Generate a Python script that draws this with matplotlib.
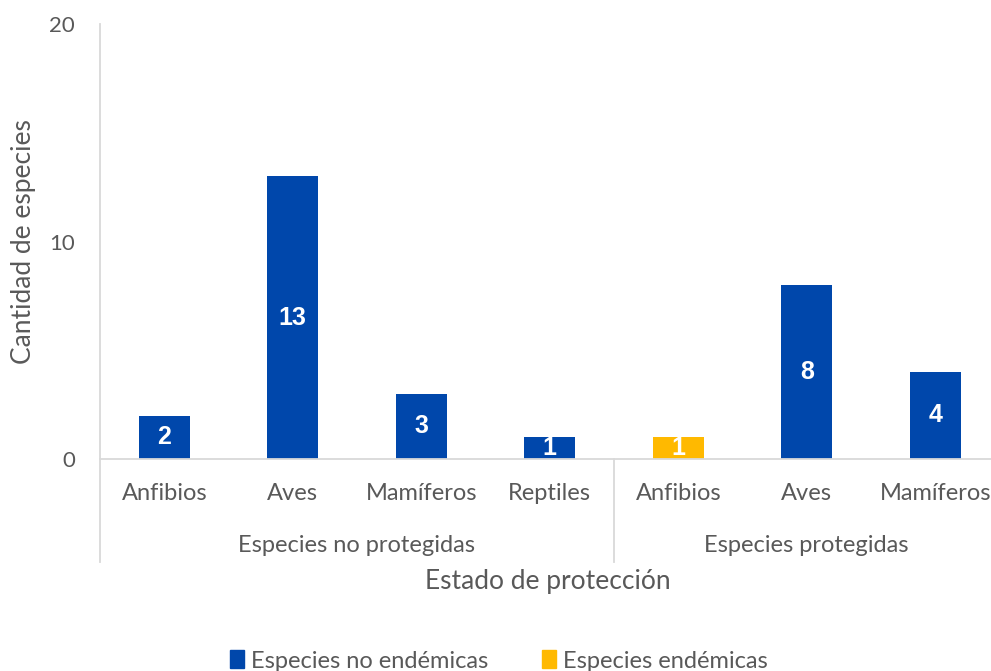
import matplotlib.pyplot as plt
from matplotlib.patches import Patch
import matplotlib.transforms as mtransforms

categorias = ["Anfibios", "Aves", "Mamíferos", "Reptiles", "Anfibios", "Aves", "Mamíferos"]
grupos = ["Especies no protegidas", "Especies protegidas"]
grupo_tamano = [4, 3]
no_endemicas = [2, 13, 3, 1, 0, 8, 4]
endemicas = [0, 0, 0, 0, 1, 0, 0]

azul = "#0047AB"
amarillo = "#FFB900"
gris = "#595959"
linea = "#D9D9D9"

plt.rcParams['font.family'] = ['Lato', 'DejaVu Sans']

fig = plt.figure(figsize=(9.91, 6.71), dpi=100)
W, H = 991, 671
ax = fig.add_axes([100 / W, 1 - 459 / H, 899.5 / W, 435 / H])

x = list(range(len(categorias)))
ax.bar(x, no_endemicas, width=0.4, color=azul, zorder=2)
ax.bar(x, endemicas, width=0.4, bottom=no_endemicas, color=amarillo, zorder=2)

for i in x:
    base = 0
    for v in (no_endemicas[i], endemicas[i]):
        if v > 0:
            ax.text(i, base + v / 2, str(v), ha="center", va="center", color="white",
                    fontsize=18, fontweight="bold", family="Liberation Sans", zorder=3)
        base += v

ax.set_xlim(-0.5, len(categorias) - 0.5)
ax.set_ylim(0, 20)
ax.set_yticks([0, 10, 20])
ax.tick_params(axis="y", length=0, pad=18, labelsize=16, labelcolor=gris)
ax.set_xticks(x)
ax.set_xticklabels(categorias)
ax.tick_params(axis="x", length=0, pad=17, labelsize=17, labelcolor=gris)

for s in ["top", "right"]:
    ax.spines[s].set_visible(False)
ax.spines["left"].set_color(linea)
ax.spines["bottom"].set_color(linea)
ax.spines["left"].set_linewidth(1.3)
ax.spines["bottom"].set_linewidth(1.3)

trans = mtransforms.blended_transform_factory(ax.transData, ax.transAxes)
inicio = -0.5
for g, n in zip(grupos, grupo_tamano):
    fin = inicio + n
    ax.text((inicio + fin) / 2, -0.198, g, transform=trans, ha="center", va="center",
            fontsize=17, color=gris)
    ax.plot([inicio, inicio], [0, -0.237], transform=trans, color=linea, lw=1.3, clip_on=False)
    inicio = fin

ax.set_ylabel("Cantidad de especies", fontsize=19, color=gris)
ax.yaxis.set_label_coords(-64 / 899.5, 0.5)
fig.text(548 / W, 1 - 582 / H, "Estado de protección", ha="center", va="center",
         fontsize=19, color=gris)

handles = [Patch(color=azul, label="Especies no endémicas"),
           Patch(color=amarillo, label="Especies endémicas")]
leg = fig.legend(handles=handles, loc="center", bbox_to_anchor=(499 / W, 1 - 661 / H), ncol=2,
                 frameon=False, fontsize=17, handlelength=0.6, handleheight=0.8,
                 handletextpad=0.3, columnspacing=2.25, borderpad=0.2)
for t in leg.get_texts():
    t.set_color(gris)

fig.savefig("out.png", dpi=100)
